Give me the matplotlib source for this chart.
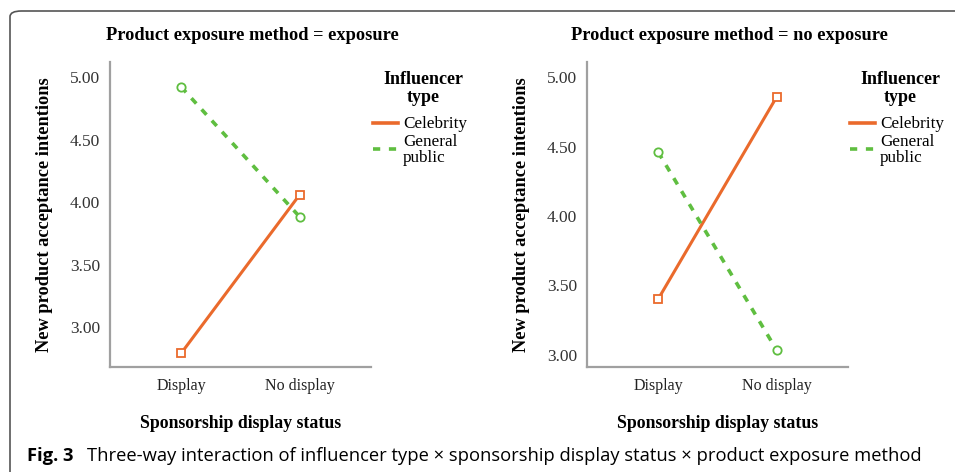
import matplotlib
matplotlib.use("Agg")
import matplotlib.pyplot as plt
from matplotlib.patches import FancyBboxPatch
from matplotlib.lines import Line2D

categories = ["Display", "No display"]
panel_titles = ["Product exposure method = exposure", "Product exposure method = no exposure"]
legend_title = "Influencer\ntype"
legend_labels = ["Celebrity", "General\npublic"]
celebrity_exposure = [2.79, 4.06]
general_exposure = [4.92, 3.88]
celebrity_noexposure = [3.40, 4.86]
general_noexposure = [4.46, 3.03]
yticks = [3.00, 3.50, 4.00, 4.50, 5.00]
ylims = [(2.68, 5.12), (2.91, 5.11)]

ORANGE = "#EA6A2C"
GREEN = "#5FBE40"
SPINE = "#A0A0A0"
SERIF = ["Liberation Serif", "DejaVu Serif"]
W, H = 955, 472

fig = plt.figure(figsize=(9.55, 4.72), dpi=100)


def fx(px):
    return px / W


def fy(py):
    return 1 - py / H


# frame
frame = FancyBboxPatch((fx(10), -0.05), 1.2, fy(11) + 0.05,
                       boxstyle="round,pad=0,rounding_size=0.012",
                       transform=fig.transFigure, fill=False,
                       edgecolor="#555555", linewidth=1.2, clip_on=False)
fig.patches.append(frame)

lefts = [110, 587]
series = [(celebrity_exposure, general_exposure), (celebrity_noexposure, general_noexposure)]
xs = [0, 1]
dash = (0, (2.0, 2.2))
for i in range(2):
    L = lefts[i]
    ax = fig.add_axes([fx(L), fy(367), 261 / W, 305 / H])
    celeb, gen = series[i]
    ax.plot(xs, celeb, color=ORANGE, lw=2.2, marker="s", markersize=6,
            markerfacecolor="white", markeredgecolor=ORANGE, markeredgewidth=1.3)
    ax.plot(xs, gen, color=GREEN, lw=2.6, ls=dash, marker="o", markersize=6,
            markerfacecolor="white", markeredgecolor=GREEN, markeredgewidth=1.3)
    ax.set_xlim(-0.6, 1.6)
    ax.set_ylim(*ylims[i])
    ax.set_xticks(xs)
    ax.set_xticklabels(categories, family=SERIF, fontsize=11.5, color="#222222")
    ax.set_yticks(yticks)
    ax.set_yticklabels([f"{v:.2f}" for v in yticks], family=SERIF, fontsize=12.5, color="#333333")
    ax.tick_params(axis="y", length=0, pad=7)
    ax.tick_params(axis="x", length=0, pad=8)
    for s in ["top", "right"]:
        ax.spines[s].set_visible(False)
    for s in ["left", "bottom"]:
        ax.spines[s].set_color(SPINE)
        ax.spines[s].set_linewidth(1.6)
    ax.set_ylabel("New product acceptance intentions", family=SERIF, fontsize=13.2,
                  fontweight="bold", labelpad=12)
    ax.set_xlabel("Sponsorship display status", family=SERIF, fontsize=12.8,
                  fontweight="bold", labelpad=15)
    fig.text(fx(L + 142), fy(35), panel_titles[i], family=SERIF, fontsize=13.2,
             fontweight="bold", ha="center", va="center")

    # legend
    lx = L + 263
    fig.text(fx(lx + 50), fy(80), "Influencer", family=SERIF, fontsize=13,
             fontweight="bold", ha="center", va="center")
    fig.text(fx(lx + 50), fy(97), "type", family=SERIF, fontsize=13,
             fontweight="bold", ha="center", va="center")
    fig.add_artist(Line2D([fx(lx), fx(lx + 25)], [fy(123), fy(123)], color=ORANGE, lw=2.6,
                          transform=fig.transFigure))
    fig.add_artist(Line2D([fx(lx), fx(lx + 25)], [fy(149), fy(149)], color=GREEN, lw=2.6,
                          ls=(0, (2.0, 2.4)), transform=fig.transFigure))
    fig.text(fx(lx + 30), fy(124), legend_labels[0], family=SERIF, fontsize=12.3,
             ha="left", va="center")
    fig.text(fx(lx + 30), fy(150), legend_labels[1], family=SERIF, fontsize=12.3,
             ha="left", va="center", linespacing=0.95)

fig.text(fx(27), fy(456), "Fig. 3", family="Open Sans", fontsize=13.2,
         fontweight="bold", va="center", ha="left")
fig.text(fx(87), fy(456),
         "Three-way interaction of influencer type × sponsorship display status × product exposure method",
         family="Open Sans", fontsize=13.2, va="center", ha="left")

fig.savefig("out.png", dpi=100)
